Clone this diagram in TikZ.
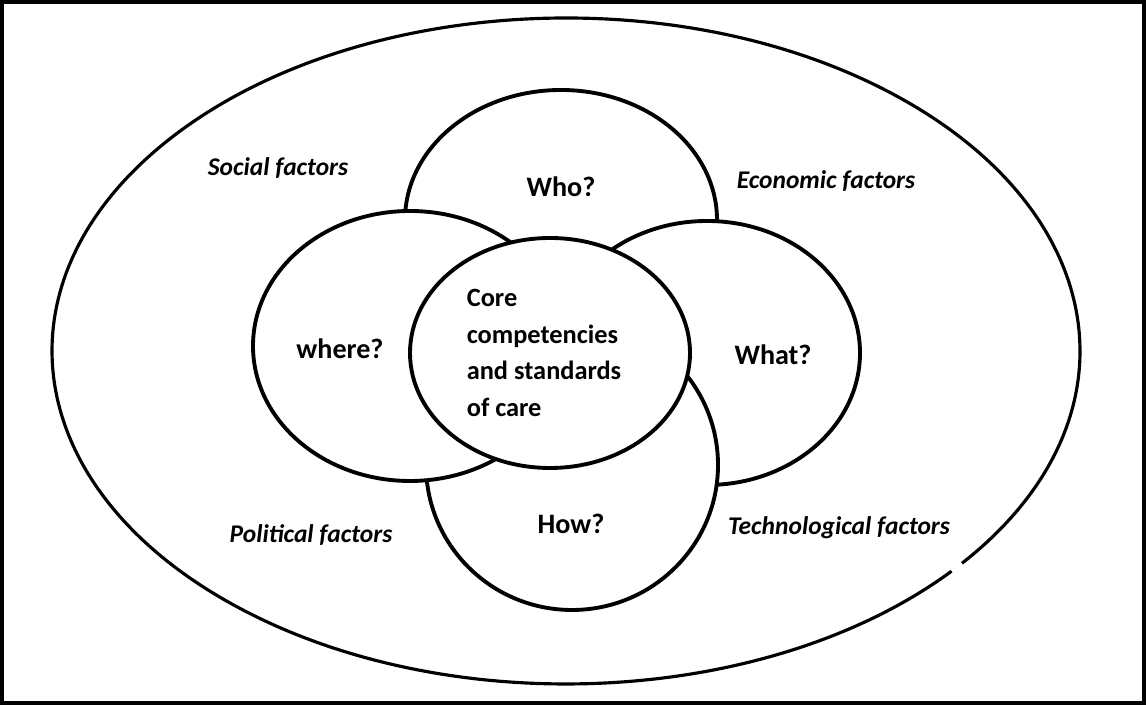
\documentclass[tikz,border=0pt]{standalone}
\usepackage{fontspec}
\setmainfont{Carlito}

\begin{document}
\begin{tikzpicture}[x=0.02cm, y=0.02cm, line width=2.2pt,
  ring/.style={draw, fill=white},
  factor/.style={font=\fontsize{14.5}{17}\selectfont\bfseries\itshape},
  question/.style={font=\fontsize{16}{19}\selectfont\bfseries}]
\useasboundingbox (0,0) rectangle (1146,705);
\draw[line width=2.4pt] (2,2) rectangle (1144,703);
% outer ellipse, with its small break at the lower right
\coordinate (outer) at (566,354);
\draw[line width=1.8pt] ([shift={(-39.6:514 and 333)}]outer)
  arc[start angle=-39.6, end angle=318.6, x radius=514, y radius=333];
\coordinate (who) at (561,485);
\coordinate (what) at (707,352);
\coordinate (how) at (572,240);
\coordinate (where) at (410,359);
\coordinate (core) at (550,352);
\draw[ring] (who) ellipse [x radius=156, y radius=130];
\draw[ring] (what) ellipse [x radius=153, y radius=132];
\draw[ring] (how) ellipse [x radius=146, y radius=145];
\draw[ring] (where) ellipse [x radius=157, y radius=135];
\draw[ring] (core) ellipse [x radius=140, y radius=115];
\node[question] (whoq) at (561,518) {Who?};
\node[question] (whatq) at (773,350) {What?};
\node[question] (howq) at (571,181) {How?};
\node[question] (whereq) at (340,356) {where?};
\node[question, align=left, font=\fontsize{15}{21}\selectfont\bfseries]
  (coreq) at (544,352) {Core\\competencies\\and standards\\of care};
\node[factor] (social) at (278,537) {Social factors};
\node[factor] (economic) at (826,524) {Economic factors};
\node[factor] (political) at (311,170) {Political factors};
\node[factor] (techno) at (839,177) {Technological factors};
\end{tikzpicture}
\end{document}
